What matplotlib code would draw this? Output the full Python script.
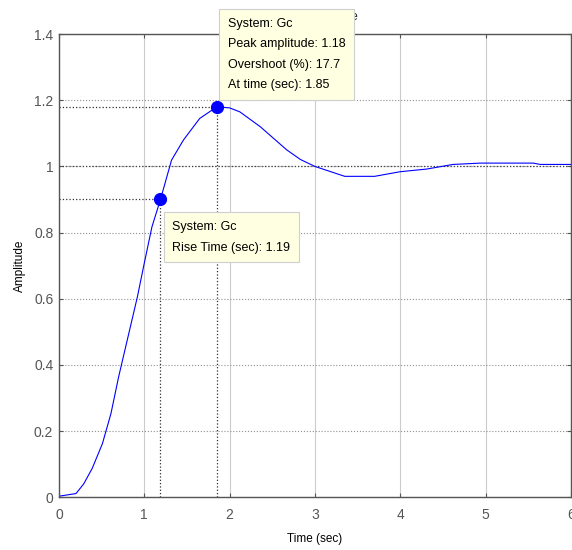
import numpy as np
import matplotlib.pyplot as plt

plt.rcParams['font.family'] = ['Liberation Sans', 'DejaVu Sans']

# step response samples of Gc
t = [0, 0.2, 0.29, 0.39, 0.51, 0.61, 0.70, 0.82, 0.92, 1.0, 1.09, 1.19,
     1.32, 1.46, 1.65, 1.85, 2.0, 2.12, 2.36, 2.67, 2.83, 3.0, 3.35, 3.7,
     4.0, 4.31, 4.62, 4.94, 5.56, 5.64, 6.0]
y = [0.003, 0.011, 0.04, 0.087, 0.162, 0.253, 0.364, 0.496, 0.606, 0.707, 0.817, 0.9,
     1.019, 1.08, 1.145, 1.18, 1.177, 1.165, 1.12, 1.05, 1.021, 1.0, 0.97, 0.97,
     0.984, 0.992, 1.006, 1.01, 1.01, 1.006, 1.006]

rise_t, rise_y = 1.19, 0.9
peak_t, peak_y, overshoot = 1.85, 1.18, 17.7
final_y = 1.0

fig = plt.figure(figsize=(5.72, 5.5), dpi=100)
ax = fig.add_axes([0.103, 0.096, 0.895, 0.842])

ax.set_xlim(0, 6)
ax.set_ylim(0, 1.4)
ax.set_xticks(np.arange(0, 7, 1))
ax.set_yticks(np.arange(0, 1.41, 0.2))
ax.set_yticklabels(['0', '0.2', '0.4', '0.6', '0.8', '1', '1.2', '1.4'])

ax.xaxis.grid(True, color='#cccccc', linestyle='-', linewidth=0.8)
ax.yaxis.grid(True, color='#909090', linestyle=':', linewidth=0.8)
ax.set_axisbelow(True)

# steady state, rise time and peak guides
ax.axhline(final_y, color='#404040', linestyle=':', linewidth=0.9, zorder=1.5)
ax.plot([0, rise_t], [rise_y, rise_y], color='#303030', linestyle=':', linewidth=0.9)
ax.plot([rise_t, rise_t], [0, rise_y], color='#303030', linestyle=':', linewidth=0.9)
ax.plot([0, peak_t], [peak_y, peak_y], color='#303030', linestyle=':', linewidth=0.9)
ax.plot([peak_t, peak_t], [0, peak_y], color='#303030', linestyle=':', linewidth=0.9)

ax.plot(t, y, color='blue', linewidth=0.8)
ax.plot([rise_t, peak_t], [rise_y, peak_y], 'o', color='blue', markersize=8.5, zorder=5)

ax.set_title('Step Response', fontsize=9, color='#222222', pad=10)
ax.set_xlabel('Time (sec)', fontsize=8.5, labelpad=8)
ax.set_ylabel('Amplitude', fontsize=8.5, labelpad=6)

ax.tick_params(direction='in', length=3, labelsize=10, colors='#555555',
               top=True, right=True, pad=8)
ax.tick_params(axis='y', pad=4)
for s in ax.spines.values():
    s.set_color('#555555')
    s.set_linewidth(1.0)

box = dict(boxstyle='square,pad=0.7', facecolor='#ffffe1', edgecolor='#cfcfcf', linewidth=0.8)
ax.text(peak_t + 0.13, 1.45,
        'System: Gc\nPeak amplitude: %.2f\nOvershoot (%%): %.1f\nAt time (sec): %.2f'
        % (peak_y, overshoot, peak_t),
        fontsize=9, va='top', ha='left', linespacing=1.95, bbox=box,
        clip_on=False, zorder=10)
ax.text(rise_t + 0.14, 0.835,
        'System: Gc\nRise Time (sec): %.2f' % rise_t,
        fontsize=9, va='top', ha='left', linespacing=1.95, bbox=box,
        zorder=10)

fig.savefig('out.png', dpi=100)
